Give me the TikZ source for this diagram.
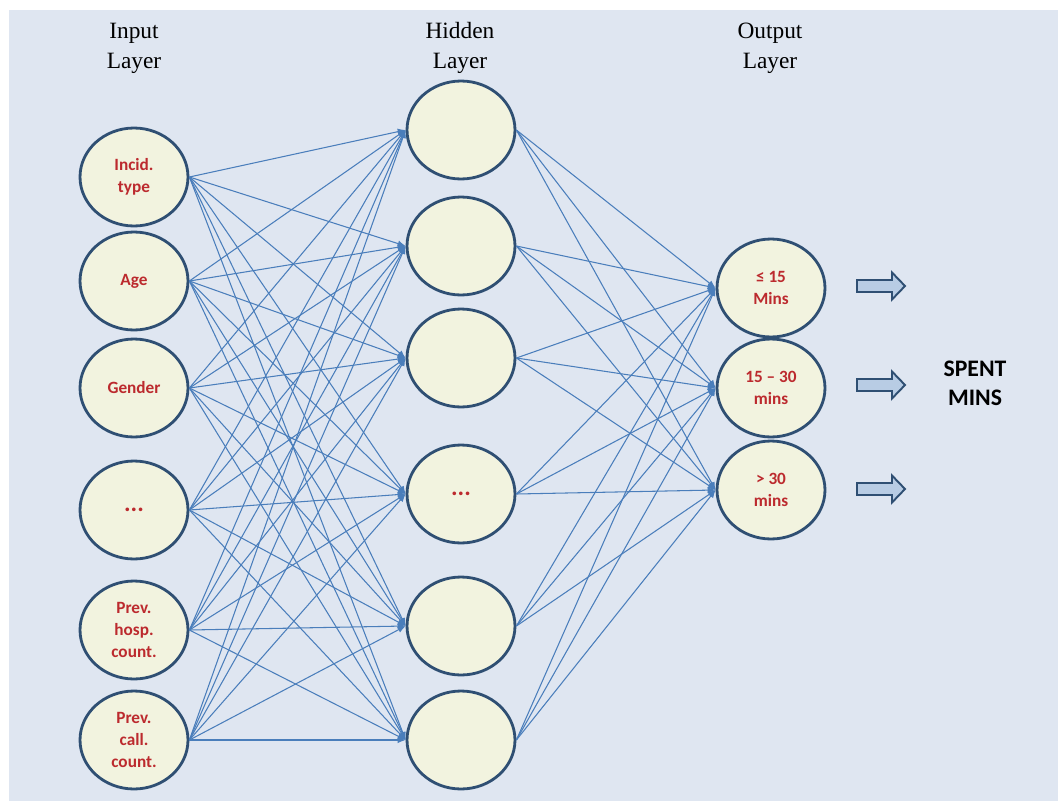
\documentclass[tikz,border=0pt]{standalone}
\usepackage{fontspec}
\setmainfont{Liberation Serif}
\setsansfont{Carlito}
\usepackage{tikz}
\usetikzlibrary{arrows.meta,shapes.geometric}
\definecolor{bgblue}{HTML}{DFE6F1}
\definecolor{cellfill}{HTML}{F2F3DF}
\definecolor{cellline}{HTML}{2F4F73}
\definecolor{linkblue}{HTML}{4A7EBB}
\definecolor{labelred}{HTML}{BC2A2E}
\definecolor{arrfill}{HTML}{B8CCE4}

\begin{document}
\begin{tikzpicture}[x=0.02cm,y=-0.02cm,>={Latex[length=4.5pt,width=3.6pt]},
 cell/.style={ellipse,draw=cellline,line width=1.6pt,fill=cellfill,minimum width=2.16cm,minimum height=1.96cm,inner sep=0pt,align=center,
  font=\sffamily\bfseries\fontsize{9.8}{12.5}\selectfont,text=labelred},
 dots/.style={font=\sffamily\bfseries\fontsize{14}{14}\selectfont},
 ttl/.style={align=center,font=\fontsize{13.3}{17}\selectfont},
 link/.style={->,line width=.6pt,linkblue},
 blockarr/.style={draw=cellline,line width=1.1pt,fill=arrfill,line join=miter}]
\path[use as bounding box] (0,0) rectangle (1058,801);
\fill[white] (0,0) rectangle (1058,801);
\fill[bgblue] (9,10) rectangle (1058,801);
% layer titles
\node[ttl] (tin) at (134,48) {Input\\Layer};
\node[ttl] (thid) at (460,48) {Hidden\\Layer};
\node[ttl] (tout) at (770,48) {Output\\Layer};
% input layer
\node[cell] (in1) at (134,177) {Incid.\\type};
\node[cell] (in2) at (134,281) {Age};
\node[cell] (in3) at (134,388) {Gender};
\node[cell,dots] (in4) at (134,510) {...};
\node[cell] (in5) at (134,630) {Prev.\\hosp.\\count.};
\node[cell] (in6) at (134,740) {Prev.\\call.\\count.};
% hidden layer
\node[cell] (hid1) at (461,130) {};
\node[cell] (hid2) at (461,246) {};
\node[cell] (hid3) at (461,358) {};
\node[cell,dots] (hid4) at (461,494) {...};
\node[cell] (hid5) at (461,626) {};
\node[cell] (hid6) at (461,740) {};
% output layer
\node[cell] (out1) at (771,288) {≤ 15\\Mins};
\node[cell] (out2) at (771,388) {15 – 30\\mins};
\node[cell] (out3) at (771,490) {> 30\\mins};
% connections
\foreach \i in {1,...,6}
  \foreach \j in {1,...,6}
    \draw[link] (in\i.east) -- (hid\j.west);
\foreach \j in {1,...,6}
  \foreach \k in {1,2,3}
    \draw[link] (hid\j.east) -- (out\k.west);
% block arrows
\foreach \k/\y in {1/286,2/385,3/489}
  \draw[blockarr] (857,\y-6) -- (892,\y-6) -- (892,\y-13.5) -- (905,\y) -- (892,\y+13.5) -- (892,\y+6) -- (857,\y+6) -- cycle;
\node[align=center,font=\sffamily\bfseries\fontsize{13.5}{16.5}\selectfont] (res) at (975,383) {SPENT\\MINS};
\end{tikzpicture}
\end{document}
